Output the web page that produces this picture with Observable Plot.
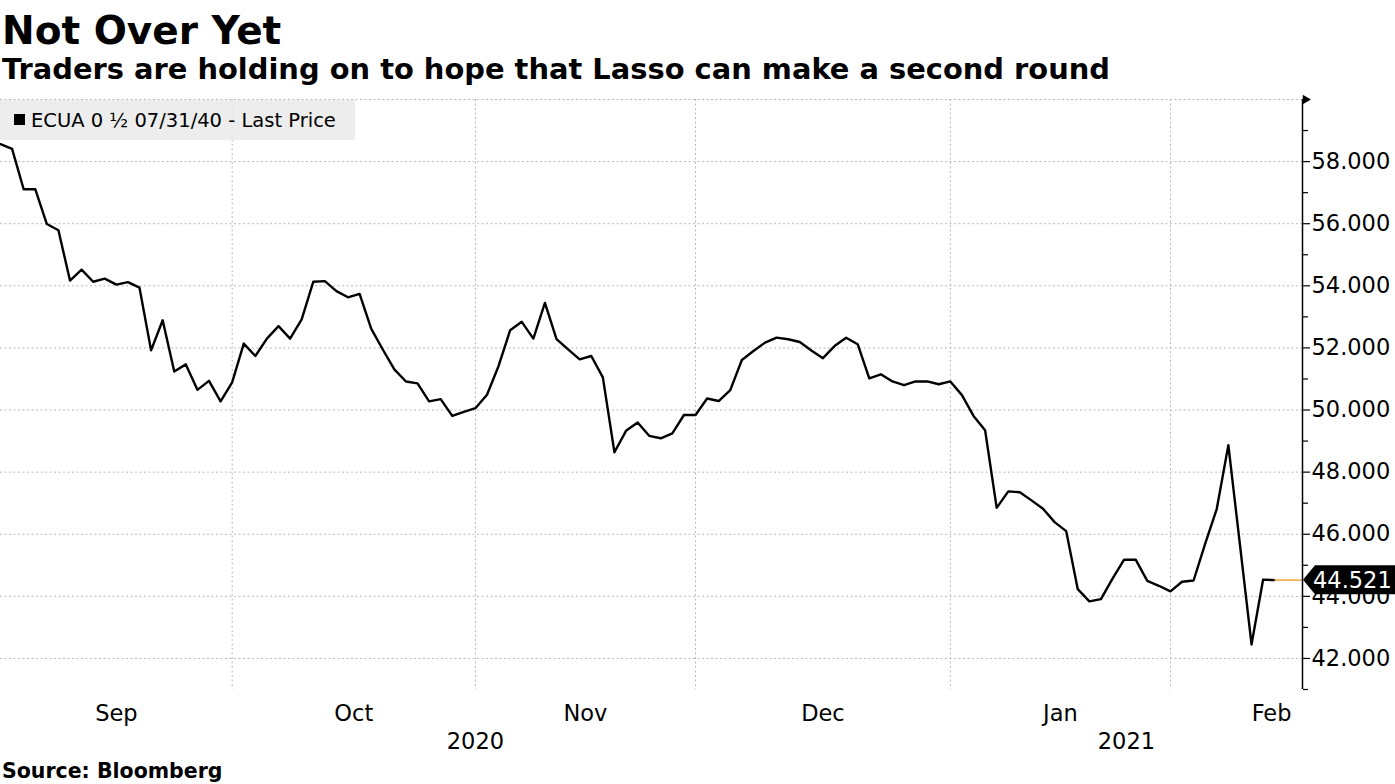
<!DOCTYPE html>
<html><head><meta charset="utf-8">
<script src="https://cdn.jsdelivr.net/npm/d3@7"></script>
<script src="https://cdn.jsdelivr.net/npm/@observablehq/plot@0.6"></script>
<style>
body{margin:0;background:#fff;width:1395px;height:784px;overflow:hidden;position:relative;font-family:"DejaVu Sans",sans-serif;color:#000;}
#title{position:absolute;left:2px;top:11px;font-weight:bold;font-size:39px;line-height:39px;white-space:nowrap;}
#subtitle{position:absolute;left:2px;top:55px;font-weight:bold;font-size:28.9px;line-height:28.9px;white-space:nowrap;}
#chart{position:absolute;left:0;top:90px;}
#legend{position:absolute;left:0;top:100px;width:355px;height:40px;background:rgba(232,232,232,0.8);font-size:19.5px;line-height:19.5px;}
#legend .sw{position:absolute;left:14px;top:14px;width:11px;height:11px;background:#000;}
#legend .tx{position:absolute;left:31px;top:11px;white-space:nowrap;}
#source{position:absolute;left:2px;top:761px;font-weight:bold;font-size:20.5px;line-height:20.5px;white-space:nowrap;}
</style></head><body>
<div id="title">Not Over Yet</div>
<div id="subtitle">Traders are holding on to hope that Lasso can make a second round</div>
<div id="chart"></div>
<div id="legend"><span class="sw"></span><span class="tx">ECUA 0 ½ 07/31/40 - Last Price</span></div>
<div id="source">Source: Bloomberg</div>
<script>
// Trading days shown on the chart (bond-market days)
const dates = [
  "2020-09-02","2020-09-03","2020-09-04","2020-09-08","2020-09-09","2020-09-10","2020-09-11","2020-09-14","2020-09-15","2020-09-16",
  "2020-09-17","2020-09-18","2020-09-21","2020-09-22","2020-09-23","2020-09-24","2020-09-25","2020-09-28","2020-09-29","2020-09-30",
  "2020-10-01","2020-10-02","2020-10-05","2020-10-06","2020-10-07","2020-10-08","2020-10-09","2020-10-13","2020-10-14","2020-10-15",
  "2020-10-16","2020-10-19","2020-10-20","2020-10-21","2020-10-22","2020-10-23","2020-10-26","2020-10-27","2020-10-28","2020-10-29",
  "2020-10-30","2020-11-02","2020-11-03","2020-11-04","2020-11-05","2020-11-06","2020-11-09","2020-11-10","2020-11-12","2020-11-13",
  "2020-11-16","2020-11-17","2020-11-18","2020-11-19","2020-11-20","2020-11-23","2020-11-24","2020-11-25","2020-11-27","2020-11-30",
  "2020-12-01","2020-12-02","2020-12-03","2020-12-04","2020-12-07","2020-12-08","2020-12-09","2020-12-10","2020-12-11","2020-12-14",
  "2020-12-15","2020-12-16","2020-12-17","2020-12-18","2020-12-21","2020-12-22","2020-12-23","2020-12-24","2020-12-28","2020-12-29",
  "2020-12-30","2020-12-31","2021-01-04","2021-01-05","2021-01-06","2021-01-07","2021-01-08","2021-01-11","2021-01-12","2021-01-13",
  "2021-01-14","2021-01-15","2021-01-19","2021-01-20","2021-01-21","2021-01-22","2021-01-25","2021-01-26","2021-01-27","2021-01-28",
  "2021-01-29","2021-02-01","2021-02-02","2021-02-03","2021-02-04","2021-02-05","2021-02-08","2021-02-09","2021-02-10","2021-02-11",
  "2021-02-12"
];
// ECUA 0 1/2 07/31/40 - Last Price (null = no print)
const prices = [
  58.56,58.41,57.11,57.11,55.99,55.79,54.17,54.52,54.13,54.23,
  54.04,54.12,53.94,51.92,52.89,51.24,51.47,50.65,50.94,50.28,
  50.89,52.14,51.74,52.30,52.70,52.30,52.92,54.13,54.15,53.83,
  53.63,53.74,52.62,51.95,51.31,50.92,50.86,50.28,50.35,49.81,
  49.94,50.06,50.49,51.42,52.57,52.84,52.30,53.45,52.28,51.95,
  51.63,51.74,51.05,48.64,49.33,49.60,49.17,49.09,49.25,49.84,
  49.84,50.37,50.29,50.64,51.61,51.90,52.17,52.33,52.28,52.19,
  51.92,51.67,52.06,52.33,52.12,51.02,51.15,50.92,50.80,50.92,
  50.92,50.83,50.92,50.48,49.81,49.35,46.85,47.38,47.35,47.09,
  46.82,46.39,46.10,44.23,43.84,43.91,44.57,45.18,45.18,44.50,
  44.34,44.16,44.47,44.51,45.70,46.82,48.87,null,42.45,44.54,
  44.521
];
const majorTicks = [42, 44, 46, 48, 50, 52, 54, 56, 58];
const minorTicks = [41, 43, 45, 47, 49, 51, 53, 55, 57, 59];
const yDomain = [41, 60];

const parse = d3.utcParse("%Y-%m-%d");
const parsed = dates.map(parse);
const series = prices.map((v, i) => ({i, date: parsed[i], v})).filter(d => d.v != null);
const last = series[series.length - 1];
const xEnd = last.i + 2.4;

// month & year boundaries (trading-day index)
const monthStarts = [], yearStarts = [];
parsed.forEach((d, i) => {
  if (i === 0 || d.getUTCMonth() !== parsed[i-1].getUTCMonth()) monthStarts.push({i, label: d3.utcFormat("%b")(d)});
  if (i === 0 || d.getUTCFullYear() !== parsed[i-1].getUTCFullYear()) yearStarts.push({i, label: d3.utcFormat("%Y")(d)});
});
const monthLabels = monthStarts.map((m, k) => ({
  x: (m.i + (k + 1 < monthStarts.length ? monthStarts[k+1].i : xEnd)) / 2, label: m.label
}));
const lastMonthLabel = monthLabels.pop();
const yearLabels = yearStarts.map((y, k) => ({
  x: (y.i + (k + 1 < yearStarts.length ? yearStarts[k+1].i : xEnd)) / 2, label: y.label
}));
const gridX = monthStarts.slice(1).map(m => m.i);

const grid = {stroke: "#b9b9b9", strokeDasharray: "2,2.5", strokeWidth: 1};

const chart = Plot.plot({
  width: 1395,
  height: 672,
  marginTop: 9,
  marginBottom: 73,
  marginLeft: 0,
  marginRight: 93,
  style: {fontFamily: "DejaVu Sans", fontSize: "22.5px", color: "black", background: "transparent", overflow: "visible"},
  x: {type: "linear", domain: [0, xEnd], axis: null},
  y: {domain: yDomain, axis: null},
  marks: [
    Plot.ruleY([...majorTicks, yDomain[1]], grid),
    Plot.ruleX(gridX, grid),
    Plot.line(series, {x: "i", y: "v", stroke: "black", strokeWidth: 2.4}),
    Plot.ruleY([last.v], {x1: last.i, x2: xEnd, stroke: "#f2a33a", strokeWidth: 1.5}),
    Plot.ruleX([xEnd], {stroke: "black", strokeWidth: 1.5}),
    Plot.axisY({ticks: minorTicks, anchor: "right", label: null, tickSize: 5, tickFormat: () => "", strokeWidth: 1.2}),
    Plot.axisY({ticks: majorTicks, anchor: "right", label: null, tickSize: 7, tickPadding: 2, tickFormat: d => d.toFixed(3), fontSize: 22.5, strokeWidth: 1.2}),
    Plot.dot([yDomain[1]], {x: () => xEnd, y: d => d, symbol: "triangle", rotate: 90, r: 3.5, fill: "black", dx: 3}),
    (index, scales) => {
      const x0 = scales.x(xEnd), yc = scales.y(last.v);
      const g = d3.create("svg:g");
      g.append("path")
        .attr("d", `M${x0 + 1},${yc} L${x0 + 13},${yc - 14.5} H1395 V${yc + 14.5} H${x0 + 13} Z`)
        .attr("fill", "black");
      g.append("text")
        .attr("x", x0 + 11).attr("y", yc).attr("dy", "0.36em")
        .attr("text-anchor", "start")
        .attr("fill", "white").attr("font-size", 22.5)
        .attr("font-family", "DejaVu Sans")
        .text(last.v.toFixed(3));
      return g.node();
    },
    Plot.text(monthLabels, {x: "x", text: "label", frameAnchor: "bottom", lineAnchor: "middle", dy: 24, fontSize: 22.5}),
    Plot.text([lastMonthLabel], {x: () => xEnd, text: "label", frameAnchor: "bottom", lineAnchor: "middle", textAnchor: "end", dx: -11, dy: 24, fontSize: 22.5}),
    Plot.text(yearLabels, {x: "x", text: "label", frameAnchor: "bottom", lineAnchor: "middle", dy: 52, fontSize: 22.5})
  ]
});
document.getElementById("chart").appendChild(chart);
</script>
</body></html>
